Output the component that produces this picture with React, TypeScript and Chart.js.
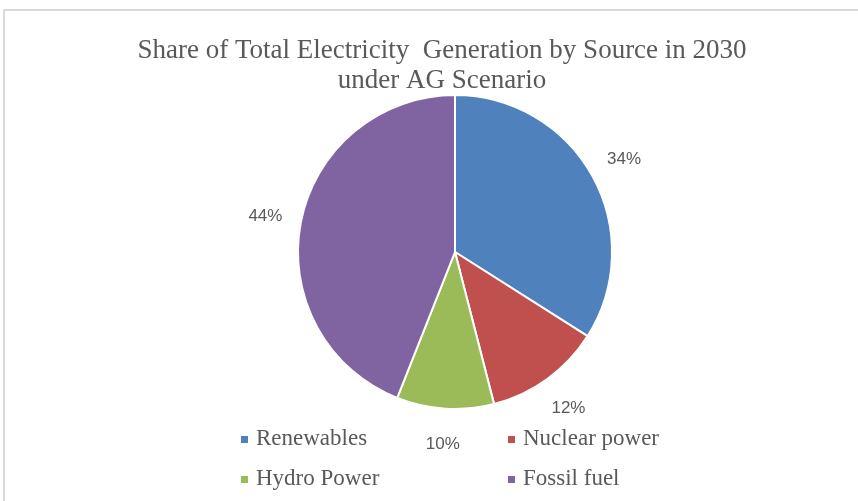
import React, { useEffect, useRef } from "react";
import { Chart, registerables } from "chart.js";

Chart.register(...registerables);

const categories = ["Renewables", "Nuclear power", "Hydro Power", "Fossil fuel"];
const shareValues = [34, 12, 10, 44];
const sliceColors = ["#4F81BD", "#C0504D", "#9BBB59", "#8064A2"];
const titleLines = ["Share of Total Electricity  Generation by Source in 2030", "under AG Scenario"];

const TEXT_COLOR = "#595959";

const decorPlugin = {
  id: "decor",
  beforeDraw(chart: any) {
    const ctx = chart.ctx;
    ctx.save();
    ctx.fillStyle = "#ffffff";
    ctx.fillRect(0, 0, chart.width, chart.height);
    ctx.strokeStyle = "#d9d9d9";
    ctx.lineWidth = 2;
    ctx.beginPath();
    ctx.moveTo(4, chart.height);
    ctx.lineTo(4, 10);
    ctx.lineTo(chart.width, 10);
    ctx.stroke();
    // title
    ctx.fillStyle = TEXT_COLOR;
    ctx.font = '27px "Liberation Serif"';
    ctx.textAlign = "center";
    ctx.textBaseline = "alphabetic";
    const cx = chart.width / 2 + 13;
    ctx.fillText(titleLines[0], cx, 58);
    ctx.fillText(titleLines[1], cx, 88);
    ctx.restore();
  },
  afterDraw(chart: any) {
    const ctx = chart.ctx;
    const meta = chart.getDatasetMeta(0);
    const ds = chart.data.datasets[0];
    const total = (ds.data as number[]).reduce((a, b) => a + b, 0);
    ctx.save();
    // data labels
    ctx.fillStyle = TEXT_COLOR;
    ctx.font = '17px "Liberation Sans"';
    ctx.textAlign = "center";
    ctx.textBaseline = "middle";
    meta.data.forEach((arc: any, i: number) => {
      const p = arc.getProps(["x", "y", "startAngle", "endAngle", "outerRadius"], true);
      const mid = (p.startAngle + p.endAngle) / 2;
      const r = p.outerRadius + 36;
      const v = (ds.data[i] as number) / total * 100;
      ctx.fillText(Math.round(v) + "%", p.x + Math.cos(mid) * r, p.y + Math.sin(mid) * r);
    });
    // legend 2x2
    const area = chart.chartArea;
    const cx = (area.left + area.right) / 2;
    const colX = [cx - 214, cx + 53];
    const rowY = [445, 485];
    ctx.font = '23px "Liberation Serif"';
    ctx.textAlign = "left";
    ctx.textBaseline = "alphabetic";
    (chart.data.labels as string[]).forEach((lab: string, i: number) => {
      const x = colX[i % 2];
      const y = rowY[Math.floor(i / 2)];
      ctx.fillStyle = (ds.backgroundColor as string[])[i];
      ctx.fillRect(x, y - 9, 7, 7);
      ctx.fillStyle = TEXT_COLOR;
      ctx.fillText(lab, x + 15, y);
    });
    ctx.restore();
  },
};

export default function App() {
  const ref = useRef<HTMLCanvasElement | null>(null);
  useEffect(() => {
    document.body.style.margin = "0";
    if (!ref.current) return;
    const chart = new Chart(ref.current, {
      type: "pie",
      data: {
        labels: categories,
        datasets: [
          {
            data: shareValues,
            backgroundColor: sliceColors,
            borderColor: "#ffffff",
            borderWidth: 2,
          },
        ],
      },
      options: {
        animation: false,
        responsive: false,
        maintainAspectRatio: false,
        layout: { padding: { top: 94, bottom: 91, left: 100, right: 48 } },
        plugins: {
          legend: { display: false },
          tooltip: { enabled: false },
          title: { display: false },
        },
      },
      plugins: [decorPlugin],
    });
    return () => chart.destroy();
  }, []);
  return (
    <div style={{ width: 858, height: 501 }}>
      <canvas ref={ref} width={858} height={501} style={{ display: "block" }} />
    </div>
  );
}
